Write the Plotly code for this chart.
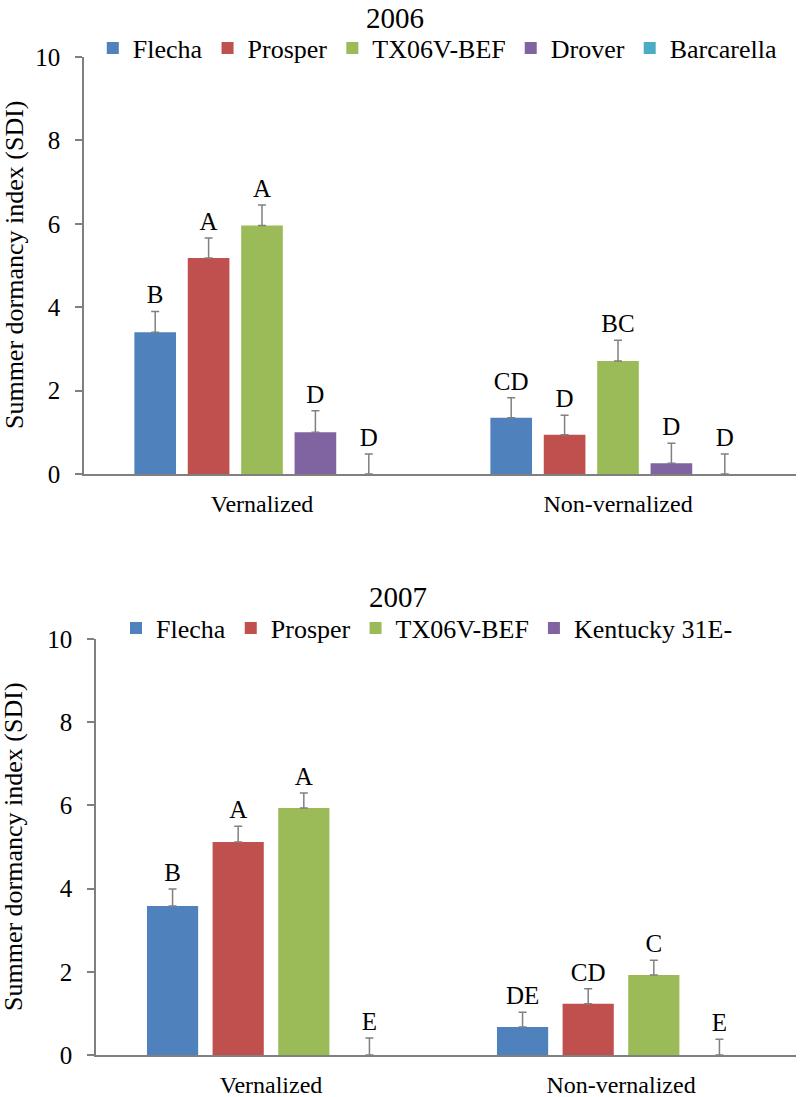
import plotly.graph_objects as go

categories = ["Vernalized", "Non-vernalized"]

# 2006
series_2006 = ["Flecha", "Prosper", "TX06V-BEF", "Drover", "Barcarella"]
values_2006 = {
    "Flecha": [3.40, 1.35],
    "Prosper": [5.18, 0.94],
    "TX06V-BEF": [5.96, 2.71],
    "Drover": [1.00, 0.26],
    "Barcarella": [0.0, 0.0],
}
errors_2006 = {
    "Flecha": [0.50, 0.48],
    "Prosper": [0.48, 0.47],
    "TX06V-BEF": [0.49, 0.50],
    "Drover": [0.52, 0.48],
    "Barcarella": [0.48, 0.48],
}
letters_2006 = {
    "Flecha": ["B", "CD"],
    "Prosper": ["A", "D"],
    "TX06V-BEF": ["A", "BC"],
    "Drover": ["D", "D"],
    "Barcarella": ["D", "D"],
}

# 2007
series_2007 = ["Flecha", "Prosper", "TX06V-BEF", "Kentucky 31E-"]
values_2007 = {
    "Flecha": [3.58, 0.67],
    "Prosper": [5.12, 1.23],
    "TX06V-BEF": [5.94, 1.92],
    "Kentucky 31E-": [0.0, 0.0],
}
errors_2007 = {
    "Flecha": [0.41, 0.36],
    "Prosper": [0.38, 0.36],
    "TX06V-BEF": [0.36, 0.36],
    "Kentucky 31E-": [0.41, 0.38],
}
letters_2007 = {
    "Flecha": ["B", "DE"],
    "Prosper": ["A", "CD"],
    "TX06V-BEF": ["A", "C"],
    "Kentucky 31E-": ["E", "E"],
}

colors = ["#4F81BD", "#C0504D", "#9BBB59", "#8064A2", "#4BACC6"]

FONT = "Liberation Serif"
GRAY = "#808080"

fig = go.Figure()


def add_panel(series, values, errors, letters, xa, ya, legend_name):
    for i, name in enumerate(series):
        fig.add_trace(go.Bar(
            x=categories, y=values[name], name=name,
            marker=dict(color=colors[i], line=dict(width=0)),
            error_y=dict(type="data", array=errors[name], arrayminus=[0] * len(categories),
                         symmetric=False, color=GRAY, thickness=1.5, width=4),
            offsetgroup=name, xaxis=xa, yaxis=ya, legend=legend_name,
        ))
        fig.add_trace(go.Bar(
            x=categories, y=errors[name], base=values[name], name=name,
            marker=dict(color="rgba(0,0,0,0)", line=dict(width=0)),
            text=letters[name], textposition="outside", constraintext="none",
            textfont=dict(family=FONT, size=25, color="black"),
            cliponaxis=False, offsetgroup=name, xaxis=xa, yaxis=ya,
            showlegend=False, hoverinfo="skip",
        ))


add_panel(series_2006, values_2006, errors_2006, letters_2006, "x", "y", "legend")
add_panel(series_2007, values_2007, errors_2007, letters_2007, "x2", "y2", "legend2")

xaxis_common = dict(type="category", showline=True, linecolor=GRAY, linewidth=1.5,
                    ticks="", showgrid=False, zeroline=False,
                    tickfont=dict(family=FONT, size=24, color="black"),
                    ticklabelstandoff=7, automargin=False)
yaxis_common = dict(range=[0, 10], dtick=2, showline=True, linecolor=GRAY, linewidth=1.5,
                    ticks="outside", ticklen=7, tickwidth=1.5, tickcolor=GRAY,
                    showgrid=False, zeroline=False,
                    tickfont=dict(family=FONT, size=25, color="black"),
                    ticklabelstandoff=10, automargin=False)

fig.update_layout(
    width=800, height=1097,
    margin=dict(l=0, r=0, t=0, b=0),
    paper_bgcolor="white", plot_bgcolor="white",
    barmode="group", bargap=0.25, bargroupgap=0.22,
    font=dict(family=FONT, color="black"),
    xaxis=dict(domain=[0.105, 0.995], anchor="y", **xaxis_common),
    yaxis=dict(domain=[0.5679, 0.948], anchor="x", **yaxis_common),
    xaxis2=dict(domain=[0.12, 0.995], anchor="y2", **xaxis_common),
    yaxis2=dict(domain=[0.0383, 0.4175], anchor="x2", **yaxis_common),
    legend=dict(orientation="h", x=0.116, xanchor="left", y=0.9562, yanchor="middle",
                font=dict(family=FONT, size=26, color="black"), bgcolor="rgba(0,0,0,0)",
                itemclick=False, itemwidth=30),
    legend2=dict(orientation="h", x=0.145, xanchor="left", y=0.4275, yanchor="middle",
                 font=dict(family=FONT, size=26, color="black"), bgcolor="rgba(0,0,0,0)",
                 itemclick=False, itemwidth=30),
    showlegend=True,
    annotations=[
        dict(text="2006", x=0.494, y=1.0, xref="paper", yref="paper",
             xanchor="center", yanchor="top", showarrow=False,
             font=dict(family=FONT, size=29, color="black")),
        dict(text="2007", x=0.497, y=0.4722, xref="paper", yref="paper",
             xanchor="center", yanchor="top", showarrow=False,
             font=dict(family=FONT, size=29, color="black")),
        dict(text="Summer dormancy index (SDI)", x=0.0175, y=0.7584, xref="paper", yref="paper",
             xanchor="center", yanchor="middle", showarrow=False, textangle=-90,
             font=dict(family=FONT, size=26, color="black")),
        dict(text="Summer dormancy index (SDI)", x=0.0175, y=0.2279, xref="paper", yref="paper",
             xanchor="center", yanchor="middle", showarrow=False, textangle=-90,
             font=dict(family=FONT, size=26, color="black")),
    ],
)

fig.write_html("out.html", config={"displayModeBar": False},
               post_script="document.body.style.margin='0px';")
